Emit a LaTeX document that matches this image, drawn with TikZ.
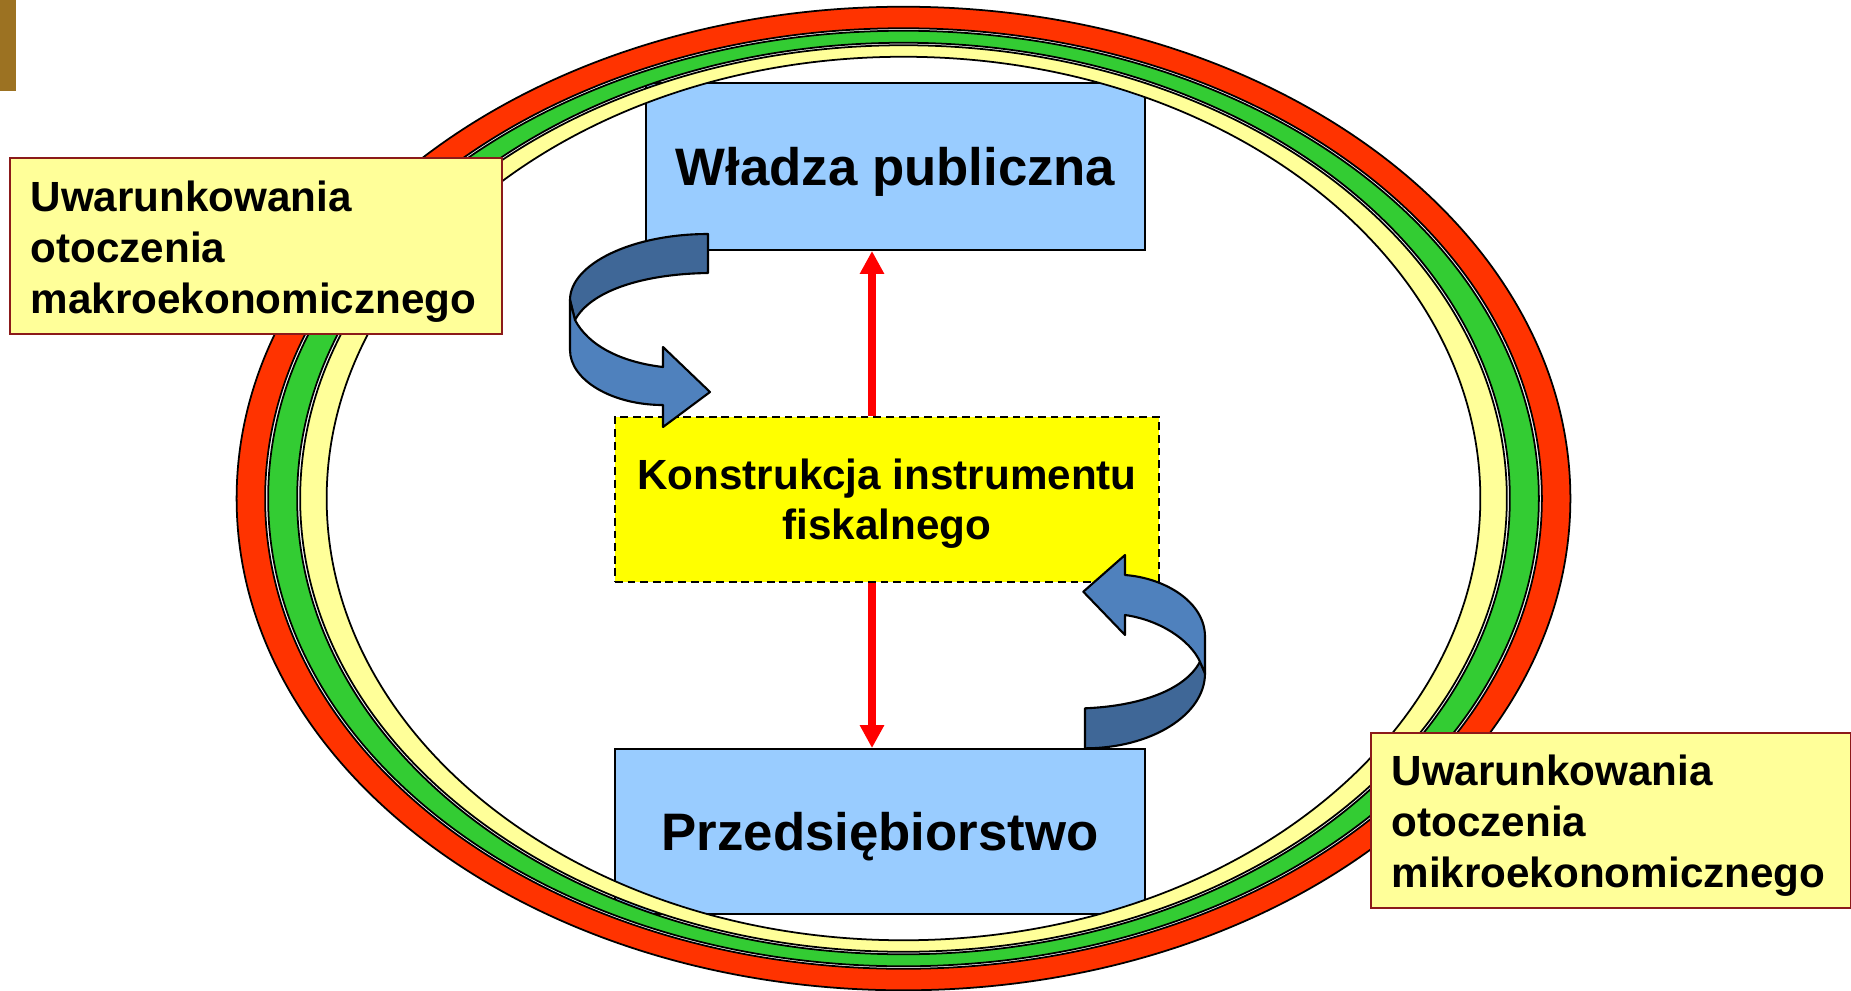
\documentclass[tikz,border=0pt]{standalone}
\usepackage{fontspec}
\setmainfont{Liberation Sans}
\usetikzlibrary{arrows.meta}
\definecolor{wpblue}{HTML}{99CCFF}
\definecolor{kfyellow}{HTML}{FFFF00}
\definecolor{uwyellow}{HTML}{FFFF99}
\definecolor{uwborder}{HTML}{8B1A1A}
\definecolor{ringred}{HTML}{FF3300}
\definecolor{ringgreen}{HTML}{33CC33}
\definecolor{ringyellow}{HTML}{FFFF99}
\definecolor{ribdark}{HTML}{3F6797}
\definecolor{riblight}{HTML}{4F81BD}
\definecolor{barbrown}{HTML}{9C7222}

\begin{document}
\begin{tikzpicture}[x=0.01cm, y=-0.01cm,
  box/.style={draw, line width=0.5pt, align=center, inner sep=0pt, text depth=0pt, font=\bfseries\fontsize{15}{18}\selectfont},
  kbox/.style={draw, line width=0.7pt, dash pattern=on 2.2pt off 1.4pt, fill=kfyellow, align=center, inner sep=0pt, text depth=0pt, font=\bfseries\fontsize{12}{14.2}\selectfont},
  uwbox/.style={draw=uwborder, fill=uwyellow, line width=0.6pt, align=left, inner xsep=0.21cm, inner ysep=0pt, text depth=28.5pt, font=\bfseries\fontsize{12}{14.5}\selectfont},
  ring/.style={draw, line width=0.5pt, even odd rule},
  rib/.style={draw, line width=0.6pt, line join=round},
  arr/.style={-{Triangle[length=0.23cm,width=0.23cm]}, red, line width=0.08cm}
]
\useasboundingbox (0,0) rectangle (1851,990);
\fill[barbrown] (0,0) rectangle (15.7,90.7);

\node[box, fill=wpblue, minimum width=4.99cm, minimum height=1.67cm] (wladza) at (895.5,166.5) {Władza publiczna};
\node[kbox, minimum width=5.44cm, minimum height=1.65cm] (kon) at (887,499.5) {Konstrukcja instrumentu\\fiskalnego};
\node[box, fill=wpblue, minimum width=5.30cm, minimum height=1.65cm] (przed) at (880,831.5) {Przedsiębiorstwo};

\coordinate (ax) at (872,0);
\draw[arr] (kon.north -| ax) -- (wladza.south -| ax);
\draw[arr] (kon.south -| ax) -- (przed.north -| ax);

\path[rib, fill=ribdark] (708,234) .. controls (632,234) and (570,264) .. (570,300) -- (575,320)
  .. controls (590,292) and (640,274) .. (708,273) -- cycle;
\path[rib, fill=riblight] (570,300) -- (570,350) .. controls (570,380) and (612,405) .. (663,405)
  -- (663,427) -- (710,392) -- (663,347) -- (663,367) .. controls (620,362) and (588,345) .. (575,320) -- cycle;
\path[rib, fill=ribdark] (1085,708.3) .. controls (1140,706) and (1185,690) .. (1200,661.7) -- (1205,673.3)
  .. controls (1205,715) and (1151,748.3) .. (1085,748.3) -- cycle;
\path[rib, fill=riblight] (1205,673.3) -- (1205,636.7) .. controls (1205,602) and (1165,578) .. (1125,575)
  -- (1125,555) -- (1083.3,591.7) -- (1125,635) -- (1125,615) .. controls (1160,620) and (1190,640) .. (1200,661.7) -- cycle;

\coordinate (c) at (903.5,498.5);
\path[ring, fill=ringred] (c) ellipse [x radius=6.665cm, y radius=4.915cm] (c) ellipse [x radius=6.38cm, y radius=4.70cm];
\path[ring, fill=ringgreen] (c) ellipse [x radius=6.35cm, y radius=4.675cm] (c) ellipse [x radius=6.06cm, y radius=4.555cm];
\path[ring, fill=ringyellow] (c) ellipse [x radius=6.03cm, y radius=4.53cm] (c) ellipse [x radius=5.765cm, y radius=4.415cm];

\node[uwbox, text width=4.50cm, minimum height=1.757cm] (makro) at (255.8,246.2) {Uwarunkowania\\otoczenia\\makroekonomicznego};
\node[uwbox, text width=4.38cm, minimum height=1.75cm] (mikro) at (1610.7,820.8) {Uwarunkowania\\otoczenia\\mikroekonomicznego};
\end{tikzpicture}
\end{document}
